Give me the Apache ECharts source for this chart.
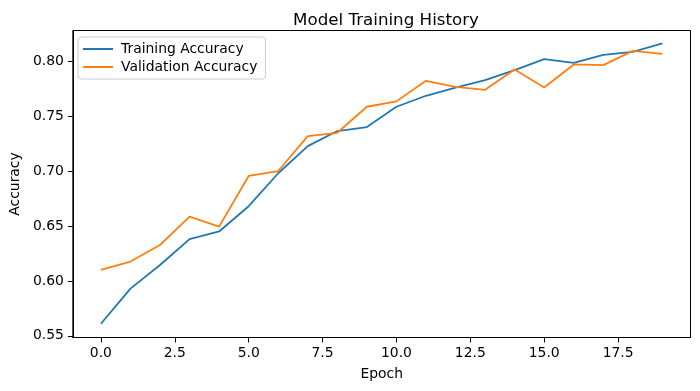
<!DOCTYPE html>
<html><head><meta charset="utf-8">
<script src="https://cdn.jsdelivr.net/npm/echarts@6/dist/echarts.min.js"></script>
<style>html,body{margin:0;padding:0;background:#fff}#c{width:700px;height:391px}</style>
</head><body><div id="c"></div>
<script>
const epochs = [0,1,2,3,4,5,6,7,8,9,10,11,12,13,14,15,16,17,18,19];
const trainAcc = [0.561,0.593,0.6145,0.638,0.645,0.668,0.698,0.7227,0.7364,0.740,0.7585,0.7685,0.776,0.7827,0.7918,0.8018,0.7985,0.8057,0.8085,0.8161];
const valAcc = [0.610,0.6176,0.6327,0.6585,0.6494,0.6955,0.700,0.7318,0.7348,0.7585,0.7634,0.7821,0.7765,0.7739,0.7925,0.7761,0.797,0.7964,0.8094,0.8066];
const xTicks = [0,2.5,5,7.5,10,12.5,15,17.5];
const yTicks = [0.55,0.60,0.65,0.70,0.75,0.80];
const seriesNames = ['Training Accuracy','Validation Accuracy'];
const titleText = 'Model Training History';
const xName = 'Epoch', yName = 'Accuracy';

const FONT = 'DejaVu Sans';
const FS = 13.9;
const chart = echarts.init(document.getElementById('c'), null, {renderer:'canvas'});
chart.setOption({
  animation:false,
  backgroundColor:'#fff',
  title:{text:titleText,left:381,top:7,textAlign:'center',
    textStyle:{fontFamily:FONT,fontSize:16.7,fontWeight:'normal',color:'#000'}},
  legend:{orient:'vertical',left:78,top:37,padding:[5,8,5,5],itemGap:4,
    itemWidth:30,itemHeight:2,icon:'rect',
    borderColor:'#cccccc',borderWidth:1,borderRadius:3,backgroundColor:'rgba(255,255,255,0.8)',
    textStyle:{fontFamily:FONT,fontSize:FS,color:'#000',padding:[0,0,0,3]},
    data:seriesNames},
  grid:{left:70.5,right:9.5,top:30.5,bottom:53.5,show:true,borderColor:'#000',borderWidth:1,containLabel:false},
  xAxis:{type:'value',min:-0.95,max:19.95,
    name:xName,nameLocation:'middle',nameGap:30,
    nameTextStyle:{fontFamily:FONT,fontSize:FS,color:'#000'},
    axisLine:{show:true,onZero:false,lineStyle:{color:'#000'}},
    axisTick:{show:true,length:5,customValues:xTicks,lineStyle:{color:'#000'}},
    axisLabel:{customValues:xTicks,margin:9,fontFamily:FONT,fontSize:FS,color:'#000',
      formatter:v=>v.toFixed(1)},
    splitLine:{show:false}},
  yAxis:{type:'value',min:0.5485,max:0.8279,
    name:yName,nameLocation:'middle',nameGap:48,
    nameTextStyle:{fontFamily:FONT,fontSize:FS,color:'#000'},
    axisLine:{show:true,onZero:false,lineStyle:{color:'#000'}},
    axisTick:{show:true,length:5,customValues:yTicks,lineStyle:{color:'#000'}},
    axisLabel:{customValues:yTicks,margin:9,fontFamily:FONT,fontSize:FS,color:'#000',
      formatter:v=>v.toFixed(2)},
    splitLine:{show:false}},
  series:[
    {name:seriesNames[0],type:'line',data:epochs.map((e,i)=>[e,trainAcc[i]]),
      symbol:'none',lineStyle:{color:'#1f77b4',width:1.8},itemStyle:{color:'#1f77b4'}},
    {name:seriesNames[1],type:'line',data:epochs.map((e,i)=>[e,valAcc[i]]),
      symbol:'none',lineStyle:{color:'#ff7f0e',width:1.8},itemStyle:{color:'#ff7f0e'}}
  ]
});
</script></body></html>
